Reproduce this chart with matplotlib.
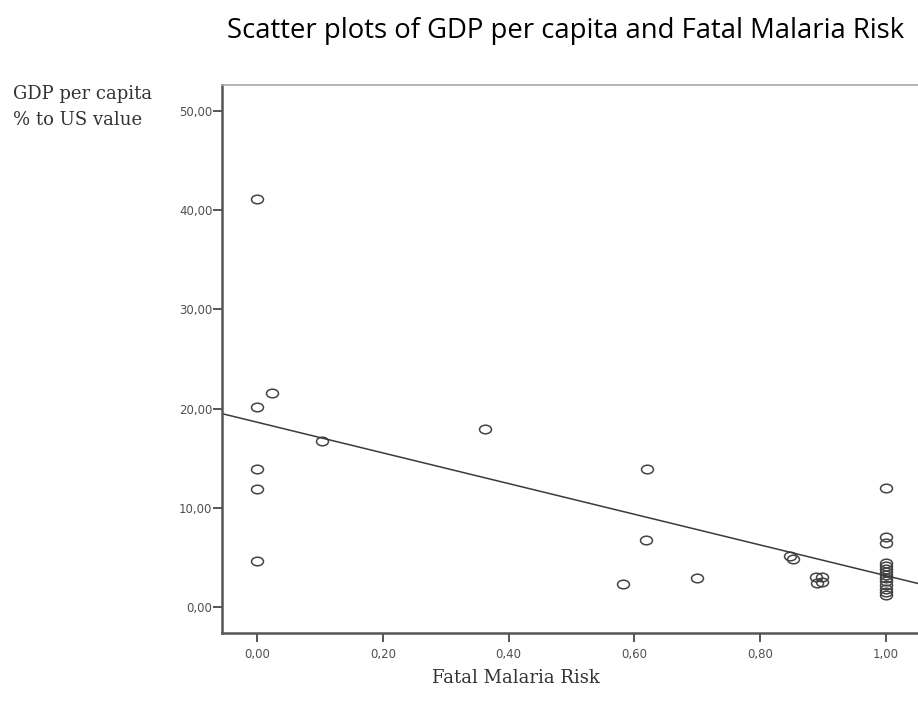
import matplotlib.pyplot as plt
import numpy as np
from matplotlib.path import Path
from matplotlib.ticker import FuncFormatter

# fatal malaria risk (x) and GDP per capita as % of the US value (y)
malaria_risk = [0.00, 0.023, 0.00, 0.103, 0.362, 0.00, 0.00, 0.00,
                0.620, 0.619, 0.582, 0.700, 0.847, 0.853,
                0.889, 0.898, 0.890, 0.899,
                1.00, 1.00, 1.00, 1.00, 1.00, 1.00, 1.00,
                1.00, 1.00, 1.00, 1.00, 1.00, 1.00, 1.00]
gdp_pct_us = [41.1, 21.6, 20.2, 16.75, 17.9, 13.9, 11.9, 4.7,
              13.9, 6.75, 2.35, 2.95, 5.2, 4.85,
              3.05, 3.05, 2.45, 2.55,
              12.0, 7.05, 6.5, 4.5, 4.1, 3.8, 3.5,
              3.2, 2.9, 2.6, 2.2, 1.8, 1.5, 1.2]

# linear fit line
fit_intercept = 18.63
fit_slope = -15.45

x_ticks = [0.0, 0.2, 0.4, 0.6, 0.8, 1.0]
y_ticks = [0, 10, 20, 30, 40, 50]

W, H = 918, 708
fig = plt.figure(figsize=(W / 100, H / 100), dpi=100)
fig.patch.set_facecolor('white')

# axes run past the right edge of the figure
left, right, top, bottom = 222, 921, 85, 633
ax = fig.add_axes([left / W, 1 - bottom / H, (right - left) / W, (bottom - top) / H])

# slightly flattened open circle marker
circ = Path.unit_circle()
ellipse = Path(circ.vertices * np.array([1.0, 0.72]), circ.codes)

ax.plot(malaria_risk, gdp_pct_us, linestyle='none', marker=ellipse,
        markersize=8.6, markerfacecolor='none', markeredgecolor='#444444',
        markeredgewidth=1.1)
ax.axline((0, fit_intercept), slope=fit_slope, color='#3a3a3a', linewidth=1.1)

ax.set_xlim(-0.056, 1.056)
ax.set_ylim(-2.6, 52.6)
ax.set_xticks(x_ticks)
ax.set_yticks(y_ticks)
comma = FuncFormatter(lambda v, pos: f'{v:.2f}'.replace('.', ','))
ax.xaxis.set_major_formatter(comma)
ax.yaxis.set_major_formatter(comma)

ax.tick_params(direction='out', length=6.5, width=1.4, color='#555555',
               labelcolor='#505050', labelsize=8.5)
ax.tick_params(axis='y', pad=0.5)
ax.tick_params(axis='x', pad=4)

ax.spines['left'].set_color('#555555')
ax.spines['left'].set_linewidth(1.8)
ax.spines['bottom'].set_color('#555555')
ax.spines['bottom'].set_linewidth(1.8)
ax.spines['top'].set_color('#a8a8a8')
ax.spines['top'].set_linewidth(1.2)
ax.spines['right'].set_visible(False)

fig.text(227 / W, 1 - 31 / H, 'Scatter plots of GDP per capita and Fatal Malaria Risk',
         family='Open Sans', fontsize=19.8, ha='left', va='center', color='black')
fig.text(13 / W, 1 - 94 / H, 'GDP per capita', family='DejaVu Serif',
         fontsize=13, ha='left', va='center', color='#333333')
fig.text(13 / W, 1 - 120 / H, '% to US value', family='DejaVu Serif',
         fontsize=13, ha='left', va='center', color='#333333')
fig.text(516 / W, 1 - 678 / H, 'Fatal Malaria Risk', family='DejaVu Serif',
         fontsize=13, ha='center', va='center', color='#333333')

plt.savefig('out.png', dpi=100)
